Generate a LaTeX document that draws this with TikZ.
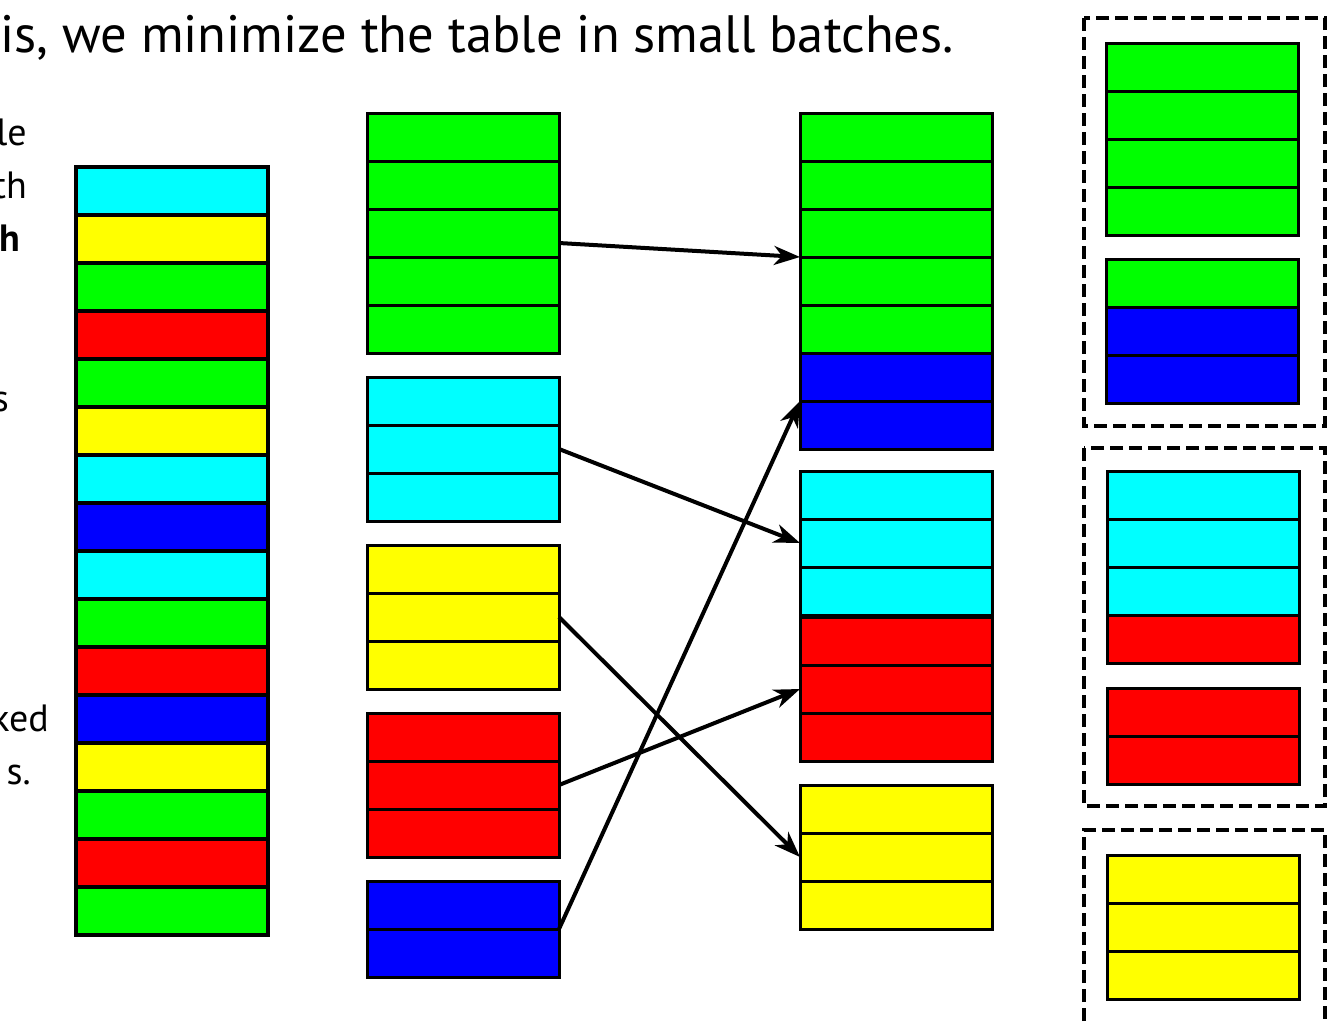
\documentclass[tikz,border=0pt]{standalone}
\usepackage{fontspec}
\setmainfont{PT Sans}
\usetikzlibrary{arrows.meta}
\definecolor{cellcyan}{RGB}{0,255,255}
\definecolor{cellyellow}{RGB}{255,255,0}
\definecolor{cellgreen}{RGB}{0,255,0}
\definecolor{cellred}{RGB}{255,0,0}
\definecolor{cellblue}{RGB}{0,0,255}
% a vertical stack of table rows, one node per row
\newcommand{\cellstack}[5][]{%
  \foreach \fillc [count=\k] in {#5}
    \node[cell, fill=\fillc, #1] (#2\k) at (#3, {#4+48*(\k-1)}) {};
}
\begin{document}
\begin{tikzpicture}[x=1pt,y=-1pt,
  cell/.style={draw=black, line width=3pt, minimum width=192pt, minimum height=48pt,
               inner sep=0pt, outer sep=0pt, anchor=north west},
  link/.style={line width=4pt, -{Stealth[length=26pt,width=19pt,inset=8pt]}},
  groupbox/.style={draw=black, line width=4.2pt, dash pattern=on 13pt off 6pt},
  heading/.style={font=\fontsize{52.6}{62}\selectfont, anchor=base west, inner sep=0pt},
  fragment/.style={font=\fontsize{38}{44}\selectfont, anchor=base east, inner sep=0pt}]
\useasboundingbox (0,0) rectangle (1338,1021);

% text
\node[heading] (title) at (0,52) {is, we minimize the table in small batches.};
\node[fragment] (f1) at (27,145) {le};
\node[fragment] (f2) at (27,198) {th};
\node[fragment] (f3) at (20,251) {\bfseries h};
\node[fragment] (f4) at (9,411) {s};
\node[fragment] (f5) at (49,731) {ked};
\node[fragment] (f6) at (31,784) {s.};

% the unsorted table
\cellstack[line width=3.4pt]{L}{76}{167}{cellcyan,cellyellow,cellgreen,cellred,cellgreen,cellyellow,cellcyan,cellblue,cellcyan,cellgreen,cellred,cellblue,cellyellow,cellgreen,cellred,cellgreen}

% rows grouped by colour
\cellstack{G}{367}{113}{cellgreen,cellgreen,cellgreen,cellgreen,cellgreen}
\cellstack{C}{367}{377}{cellcyan,cellcyan,cellcyan}
\cellstack{Y}{367}{545}{cellyellow,cellyellow,cellyellow}
\cellstack{R}{367}{713}{cellred,cellred,cellred}
\cellstack{B}{367}{881}{cellblue,cellblue}

% groups reordered
\cellstack{SG}{800}{113}{cellgreen,cellgreen,cellgreen,cellgreen,cellgreen,cellblue,cellblue}
\cellstack{SC}{800}{471}{cellcyan,cellcyan,cellcyan}
\cellstack{SR}{800}{617}{cellred,cellred,cellred}
\cellstack{SY}{800}{785}{cellyellow,cellyellow,cellyellow}

% batches
\cellstack{PA}{1106}{43}{cellgreen,cellgreen,cellgreen,cellgreen}
\cellstack{PB}{1106}{259}{cellgreen,cellblue,cellblue}
\cellstack{PC}{1107}{471}{cellcyan,cellcyan,cellcyan,cellred}
\cellstack{PD}{1107}{688}{cellred,cellred}
\cellstack{PE}{1107}{855}{cellyellow,cellyellow,cellyellow}

\draw[groupbox] (1084,18) rectangle (1325,426);
\draw[groupbox] (1084,448) rectangle (1325,806);
\draw[groupbox] (1084,1021) |- (1325,830) -- (1325,1021);

% moves between the two columns
\draw[link] ([yshift=-10pt]G3.east) -- (SG3.south west);
\draw[link] (C2.east) -- (SC2.west);
\draw[link] (Y2.east) -- (SY2.west);
\draw[link] (R2.east) -- (SR2.west);
\draw[link] (B1.south east) -- (SG6.south west);
\end{tikzpicture}
\end{document}
